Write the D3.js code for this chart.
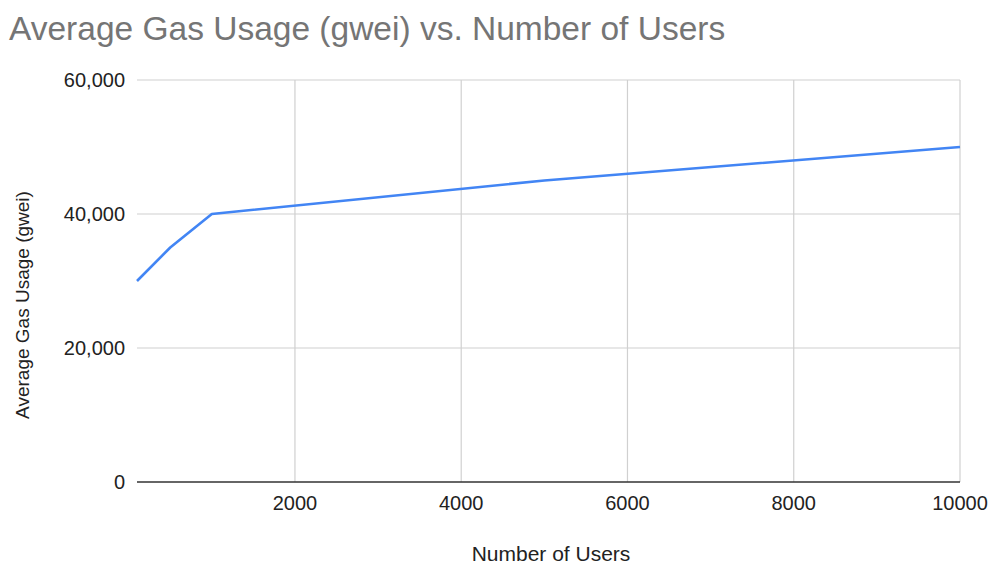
<!DOCTYPE html>
<html>
<head>
<meta charset="utf-8">
<title>Average Gas Usage</title>
<script src="https://d3js.org/d3.v7.min.js"></script>
<style>
  body { margin: 0; background: #fff; }
  text { font-family: Arial, "Liberation Sans", sans-serif; }
</style>
</head>
<body>
<div id="chart"></div>
<script>
// data
let users = [100, 500, 1000, 5000, 10000];
let gas = [30000, 35000, 40000, 45000, 50000];
let xTicks = [2000, 4000, 6000, 8000, 10000];
let yTicks = [0, 20000, 40000, 60000];

let width = 990, height = 567;
let margin = {top: 80, right: 30, bottom: 85, left: 137};
let w = width - margin.left - margin.right;
let h = height - margin.top - margin.bottom;

let svg = d3.select("#chart").append("svg")
    .attr("width", width)
    .attr("height", height);

let g = svg.append("g")
    .attr("transform", "translate(" + margin.left + "," + margin.top + ")");

let x = d3.scaleLinear().domain([100, 10000]).range([0, w]);
let y = d3.scaleLinear().domain([0, 60000]).range([h, 0]);

// grid
g.selectAll(".hgrid").data(yTicks.filter(d => d > 0)).enter()
  .append("line")
    .attr("x1", 0).attr("x2", w)
    .attr("y1", d => y(d)).attr("y2", d => y(d))
    .attr("stroke", "#d0d0d0").attr("stroke-width", 1.2);

g.selectAll(".vgrid").data(xTicks).enter()
  .append("line")
    .attr("x1", d => x(d)).attr("x2", d => x(d))
    .attr("y1", 0).attr("y2", h)
    .attr("stroke", "#d0d0d0").attr("stroke-width", 1.2);

// baseline
g.append("line")
    .attr("x1", 0).attr("x2", w)
    .attr("y1", y(0)).attr("y2", y(0))
    .attr("stroke", "#333").attr("stroke-width", 1.5);

// y tick labels
g.selectAll(".ylab").data(yTicks).enter()
  .append("text")
    .attr("x", -12)
    .attr("y", d => y(d))
    .attr("dy", "0.35em")
    .attr("text-anchor", "end")
    .attr("font-size", 20)
    .attr("fill", "#222")
    .text(d => d3.format(",")(d));

// x tick labels
g.selectAll(".xlab").data(xTicks).enter()
  .append("text")
    .attr("x", d => x(d))
    .attr("y", h + 21)
    .attr("dy", "0.35em")
    .attr("text-anchor", "middle")
    .attr("font-size", 20)
    .attr("fill", "#222")
    .text(d => d);

// line
let line = d3.line()
    .x((d, i) => x(users[i]))
    .y(d => y(d));

g.append("path")
    .datum(gas)
    .attr("fill", "none")
    .attr("stroke", "#4285F4")
    .attr("stroke-width", 2.6)
    .attr("stroke-linejoin", "round")
    .attr("d", line);

// titles
svg.append("text")
    .attr("x", 9).attr("y", 40)
    .attr("font-size", 33.5)
    .attr("fill", "#757575")
    .text("Average Gas Usage (gwei) vs. Number of Users");

svg.append("text")
    .attr("x", 551).attr("y", 561)
    .attr("text-anchor", "middle")
    .attr("font-size", 21)
    .attr("fill", "#222")
    .text("Number of Users");

svg.append("text")
    .attr("transform", "translate(29,305) rotate(-90)")
    .attr("text-anchor", "middle")
    .attr("font-size", 19)
    .attr("fill", "#222")
    .text("Average Gas Usage (gwei)");
</script>
</body>
</html>
